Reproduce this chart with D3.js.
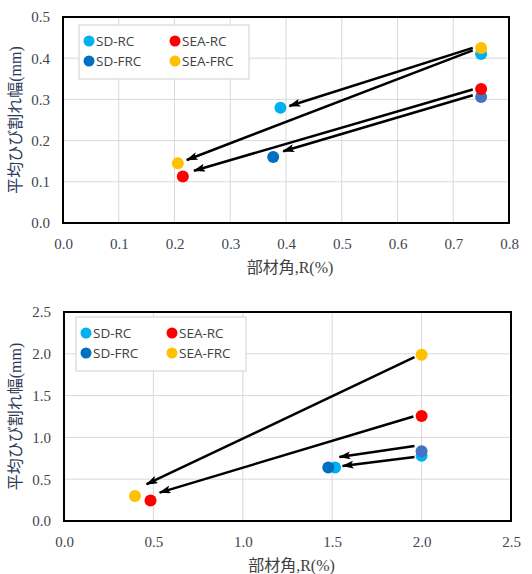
<!DOCTYPE html>
<html>
<head>
<meta charset="utf-8">
<script src="https://cdn.jsdelivr.net/npm/d3@7"></script>
<style>
  html, body { margin: 0; padding: 0; background: #fff; }
</style>
</head>
<body>
<div id="chart"></div>
<script>
// ── Data ──────────────────────────────────────────────────────────────────
var seriesNames  = ["SD-RC", "SEA-RC", "SD-FRC", "SEA-FRC"];
var seriesColors = ["#00B0F0", "#FF0000", "#0070C0", "#FFC000"];
var drawOrder    = ["SD-RC", "SD-FRC", "SEA-RC", "SEA-FRC"];
// second SD-FRC point is drawn in a lighter blue in the source
var sdFrcColors  = ["#0070C0", "#4472C4"];

var topXTicks = [0.0, 0.1, 0.2, 0.3, 0.4, 0.5, 0.6, 0.7, 0.8];
var topYTicks = [0.0, 0.1, 0.2, 0.3, 0.4, 0.5];
var topPoints = {
  "SD-RC":   [[0.390, 0.280], [0.750, 0.410]],
  "SEA-RC":  [[0.215, 0.113], [0.750, 0.325]],
  "SD-FRC":  [[0.377, 0.160], [0.750, 0.306]],
  "SEA-FRC": [[0.206, 0.145], [0.750, 0.425]]
};
// x1, y1 -> x2, y2
var topArrows = [
  [0.735, 0.425, 0.406, 0.284],
  [0.735, 0.419, 0.222, 0.153],
  [0.735, 0.324, 0.235, 0.127],
  [0.735, 0.310, 0.395, 0.174]
];

var botXTicks = [0.0, 0.5, 1.0, 1.5, 2.0, 2.5];
var botYTicks = [0.0, 0.5, 1.0, 1.5, 2.0, 2.5];
var botPoints = {
  "SD-RC":   [[1.516, 0.640], [2.000, 0.780]],
  "SEA-RC":  [[0.484, 0.245], [2.000, 1.255]],
  "SD-FRC":  [[1.478, 0.640], [2.000, 0.835]],
  "SEA-FRC": [[0.397, 0.300], [2.000, 1.990]]
};
var botArrows = [
  [1.960, 1.960, 0.462, 0.440],
  [1.954, 1.250, 0.535, 0.340],
  [1.960, 0.897, 1.540, 0.766],
  [1.960, 0.766, 1.558, 0.658]
];

var yTitle = "平均ひび割れ幅(mm)";
var xTitle = "部材角,R(%)";

// ── Drawing ───────────────────────────────────────────────────────────────
var W = 532, H = 574;
var svg = d3.select("#chart").append("svg").attr("width", W).attr("height", H)
  .style("display", "block");

var defs = svg.append("defs");
defs.append("marker").attr("id", "arrow")
  .attr("markerUnits", "userSpaceOnUse")
  .attr("viewBox", "0 0 12 8").attr("refX", 11).attr("refY", 4)
  .attr("markerWidth", 12).attr("markerHeight", 8)
  .attr("orient", "auto")
  .append("path").attr("d", "M0,0 L12,4 L0,8 L2.5,4 Z").attr("fill", "#000");

var serif = "'Liberation Serif', 'Noto Sans CJK JP', serif";
var tickColor = "#404552";

function drawChart(cfg) {
  var x = d3.scaleLinear().domain(cfg.xDomain).range([cfg.left, cfg.right]);
  var y = d3.scaleLinear().domain(cfg.yDomain).range([cfg.bottom, cfg.top]);
  var g = svg.append("g");

  // gridlines
  g.append("g").selectAll("line.vx").data(cfg.xTicks.slice(1, -1)).enter().append("line")
    .attr("x1", function (d) { return x(d); }).attr("x2", function (d) { return x(d); })
    .attr("y1", cfg.top).attr("y2", cfg.bottom)
    .attr("stroke", "#d9d9d9").attr("stroke-width", 1);
  g.append("g").selectAll("line.hy").data(cfg.yTicks.slice(1, -1)).enter().append("line")
    .attr("y1", function (d) { return y(d); }).attr("y2", function (d) { return y(d); })
    .attr("x1", cfg.left).attr("x2", cfg.right)
    .attr("stroke", "#d9d9d9").attr("stroke-width", 1);

  // axes (labels only)
  var gx = g.append("g").attr("transform", "translate(0," + cfg.bottom + ")")
    .call(d3.axisBottom(x).tickValues(cfg.xTicks).tickFormat(d3.format(".1f")).tickSize(0).tickPadding(15));
  var gy = g.append("g").attr("transform", "translate(" + cfg.left + ",0)")
    .call(d3.axisLeft(y).tickValues(cfg.yTicks).tickFormat(d3.format(".1f")).tickSize(0).tickPadding(13));
  [gx, gy].forEach(function (ax) {
    ax.select(".domain").remove();
    ax.selectAll("text").attr("fill", tickColor).style("font-family", serif).style("font-size", "15px");
  });

  // frame
  g.append("rect").attr("x", cfg.left).attr("y", cfg.top)
    .attr("width", cfg.right - cfg.left).attr("height", cfg.bottom - cfg.top)
    .attr("fill", "none").attr("stroke", "#000").attr("stroke-width", 2);

  // titles
  g.append("text").attr("x", (cfg.left + cfg.right) / 2 + 4).attr("y", cfg.bottom + 50)
    .attr("text-anchor", "middle").attr("fill", "#404040")
    .style("font-family", serif).style("font-size", "16px").text(xTitle);
  g.append("text")
    .attr("transform", "translate(21," + ((cfg.top + cfg.bottom) / 2) + ") rotate(-90)")
    .attr("text-anchor", "middle").attr("fill", "#2e3a5a")
    .style("font-family", serif).style("font-size", "16px").text(yTitle);

  // legend
  var lg = g.append("g").attr("transform", "translate(" + cfg.legend[0] + "," + cfg.legend[1] + ")");
  lg.append("rect").attr("width", 170).attr("height", 54)
    .attr("fill", "#fff").attr("stroke", "#d0d0d0").attr("stroke-width", 1);
  var legendPos = { "SD-RC": [0, 0], "SEA-RC": [1, 0], "SD-FRC": [0, 1], "SEA-FRC": [1, 1] };
  seriesNames.forEach(function (s, i) {
    var p = legendPos[s];
    var item = lg.append("g").attr("transform", "translate(" + (10 + p[0] * 86) + "," + (16 + p[1] * 20) + ")");
    item.append("circle").attr("r", 5.5).attr("fill", seriesColors[i]);
    item.append("text").attr("x", 7).attr("y", 5).attr("fill", "#404040")
      .style("font-family", "'Open Sans', sans-serif").style("font-size", "13.5px").text(s);
  });

  // points
  drawOrder.forEach(function (s) {
    var col = seriesColors[seriesNames.indexOf(s)];
    g.append("g").selectAll("circle").data(cfg.points[s]).enter().append("circle")
      .attr("cx", function (d) { return x(d[0]); })
      .attr("cy", function (d) { return y(d[1]); })
      .attr("r", 6)
      .attr("fill", function (d, j) { return s === "SD-FRC" ? sdFrcColors[j] : col; });
  });

  // arrows
  g.append("g").selectAll("line").data(cfg.arrows).enter().append("line")
    .attr("x1", function (d) { return x(d[0]); }).attr("y1", function (d) { return y(d[1]); })
    .attr("x2", function (d) { return x(d[2]); }).attr("y2", function (d) { return y(d[3]); })
    .attr("stroke", "#000").attr("stroke-width", 2.5)
    .attr("marker-end", "url(#arrow)");
}

drawChart({
  xDomain: [0, 0.8], yDomain: [0, 0.5],
  left: 63, right: 509, top: 17, bottom: 223,
  xTicks: topXTicks, yTicks: topYTicks,
  points: topPoints, arrows: topArrows,
  legend: [79, 25]
});

drawChart({
  xDomain: [0, 2.5], yDomain: [0, 2.5],
  left: 64, right: 511, top: 312, bottom: 521,
  xTicks: botXTicks, yTicks: botYTicks,
  points: botPoints, arrows: botArrows,
  legend: [76, 317]
});
</script>
</body>
</html>
